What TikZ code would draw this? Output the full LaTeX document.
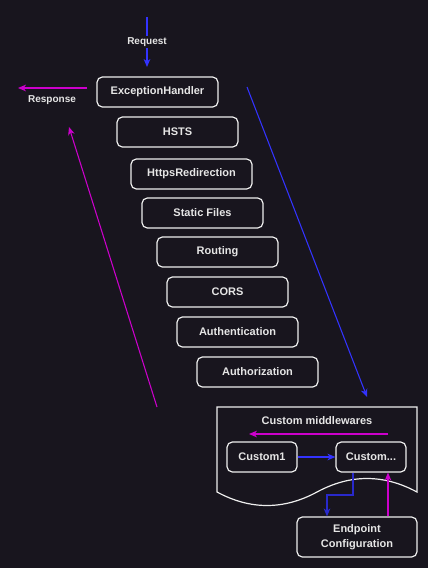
\documentclass[tikz,border=0pt]{standalone}
\usepackage{fontspec}
\setmainfont{Liberation Sans}
\usetikzlibrary{arrows.meta}
\definecolor{bg}{HTML}{18151E}
\definecolor{fg}{HTML}{E6E6E6}
\definecolor{edge}{HTML}{EEEEEE}
\definecolor{blu}{HTML}{3333FF}
\definecolor{mag}{HTML}{CC00CC}
\tikzset{
  mw/.style={draw=edge, line width=0.9pt, rounded corners=4pt, fill=bg, text=fg,
    font=\fontsize{8.25}{11.25}\selectfont\bfseries,
    minimum width={121*0.75pt}, minimum height={30*0.75pt}, inner sep=0pt, align=center},
  lbl/.style={text=fg, font=\fontsize{7.5}{9}\selectfont\bfseries, inner sep=1pt},
  tip/.style={-{Stealth[length=6pt,width=5pt,inset=1.8pt]}, line width=0.8pt},
  bluarr/.style={tip, draw=blu, color=blu},
  magarr/.style={tip, draw=mag, color=mag},
}
\begin{document}
\begin{tikzpicture}[x=0.75pt,y=-0.75pt]
\useasboundingbox[fill=bg] (0,0) rectangle (428,568);

% main pipeline
\node[mw] (eh) at (157.5,92) {ExceptionHandler};
\node[mw] (hsts) at (177.5,132) {HSTS};
\node[mw] (https) at (191.5,174) {HttpsRedirection};
\node[mw] (static) at (202.5,213) {Static Files};
\node[mw] (routing) at (217.5,252) {Routing};
\node[mw] (cors) at (227.5,292) {CORS};
\node[mw] (authn) at (237.5,332) {Authentication};
\node[mw] (authz) at (257.5,372) {Authorization};

% request
\coordinate (rqs) at (147,17);
\coordinate (rqe) at (147,67);
\draw[bluarr] (rqs) -- (rqe);
\node[lbl, fill=bg] (rq) at (147,42) {Request};

% response
\coordinate (rss) at (87,88);
\coordinate (rse) at (18,88);
\draw[magarr] (rss) -- (rse);
\node[lbl] (rs) at (52,100) {Response};

% diagonals
\coordinate (ds) at (247,87);
\coordinate (de) at (367,397);
\draw[bluarr] (ds) -- (de);
\coordinate (us) at (157,407);
\coordinate (ue) at (69,127);
\draw[magarr] (us) -- (ue);

% custom middlewares document shape
\draw[draw=edge, line width=0.9pt, fill=bg]
  (217,407) -- (417,407) -- (417,492)
  .. controls (383.67,474) and (350.33,474) .. (317,492)
  .. controls (283.67,510) and (250.33,510) .. (217,492) -- cycle;
\node[lbl, font=\fontsize{8.25}{10}\selectfont\bfseries] (cmt) at (317,421) {Custom middlewares};
\coordinate (cms) at (388,434);
\coordinate (cme) at (249,434);
\draw[magarr] (cms) -- (cme);

\node[mw, minimum width={70*0.75pt}] (c1) at (262,457) {Custom1};
\node[mw, minimum width={70*0.75pt}] (cn) at (371,457) {Custom...};
\node[mw, minimum height={40*0.75pt}, minimum width={120*0.75pt}] (ep) at (357,537) {Endpoint\\Configuration};

\draw[bluarr] (c1.east) -- (cn.west);
\draw[bluarr, line width=1.4pt, draw=blu!80!black] ([xshift=-18*0.75pt]cn.south) -- (353,495) -- (327,495) -- ([xshift=-30*0.75pt]ep.north);
\draw[magarr] ([xshift=31*0.75pt]ep.north) -- ([xshift=17*0.75pt]cn.south);
\end{tikzpicture}
\end{document}
